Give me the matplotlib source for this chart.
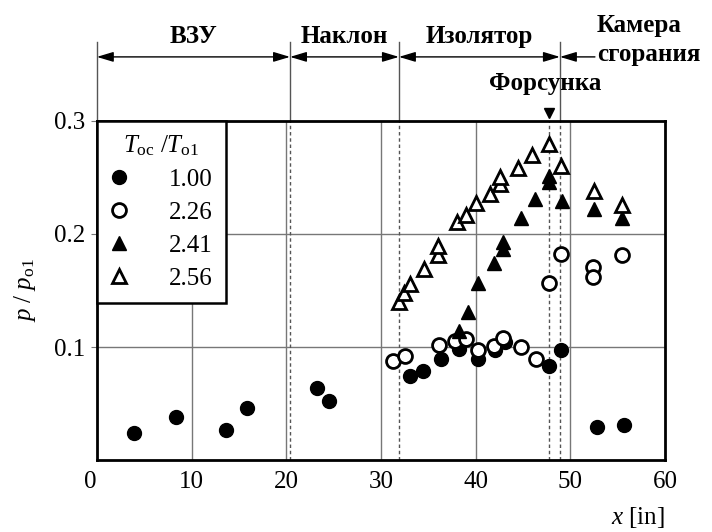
import matplotlib
matplotlib.use("Agg")
import matplotlib.pyplot as plt
from matplotlib.transforms import blended_transform_factory

plt.rcParams["font.family"] = ["Liberation Serif", "DejaVu Serif"]
plt.rcParams["mathtext.fontset"] = "custom"
plt.rcParams["mathtext.rm"] = "Liberation Serif"
plt.rcParams["mathtext.it"] = "Liberation Serif:italic"

# T_oc / T_o1 = 1.00 (filled circles)
x_100 = [3.9, 8.35, 13.65, 15.9, 23.2, 24.5, 33.1, 34.45, 36.3, 38.2, 40.3, 42.0, 43.1, 47.8, 49.0, 52.8, 55.7]
y_100 = [0.024, 0.038, 0.027, 0.046, 0.064, 0.052, 0.074, 0.079, 0.089, 0.098, 0.089, 0.097, 0.104, 0.083, 0.097, 0.029, 0.031]

# T_oc / T_o1 = 2.26 (open circles)
x_226 = [31.3, 32.5, 36.1, 37.8, 39.0, 40.3, 41.9, 42.9, 44.8, 46.4, 47.8, 49.0, 52.4, 52.4, 55.5]
y_226 = [0.088, 0.092, 0.102, 0.105, 0.107, 0.097, 0.101, 0.108, 0.100, 0.089, 0.157, 0.182, 0.171, 0.162, 0.181]

# T_oc / T_o1 = 2.41 (filled triangles)
x_241 = [38.2, 39.2, 40.2, 41.9, 42.9, 42.9, 44.8, 46.3, 47.8, 47.8, 49.1, 52.5, 55.5]
y_241 = [0.114, 0.131, 0.157, 0.174, 0.187, 0.193, 0.214, 0.231, 0.246, 0.251, 0.229, 0.222, 0.214]

# T_oc / T_o1 = 2.56 (open triangles)
x_256 = [31.9, 32.4, 33.1, 34.5, 36.0, 36.0, 38.0, 39.0, 40.0, 41.5, 42.6, 42.6, 44.5, 46.0, 47.7, 49.0, 52.5, 55.5]
y_256 = [0.140, 0.148, 0.156, 0.169, 0.181, 0.189, 0.211, 0.217, 0.227, 0.235, 0.244, 0.250, 0.258, 0.270, 0.280, 0.260, 0.238, 0.226]

# engine sections along x [in]
section_edges = [0, 20.4, 31.9, 48.9]
section_names = ["ВЗУ", "Наклон", "Изолятор"]
injector_x = 47.8

fig = plt.figure(figsize=(7.12, 5.32), dpi=100)
ax = fig.add_axes([0.136, 0.1353, 0.798, 0.6373])

ax.set_xlim(0, 60)
ax.set_ylim(0, 0.3)
ax.set_xticks([0, 10, 20, 30, 40, 50, 60])
ax.set_yticks([0.1, 0.2, 0.3])
ax.set_yticklabels(["0.1", "0.2", "0.3"])
ax.tick_params(axis="x", length=0, pad=8, labelsize=18)
ax.tick_params(axis="y", length=4, width=0.8, color="#777777", pad=4, labelsize=18)
ax.get_xticklabels()[0].set_horizontalalignment("right")
for sp in ax.spines.values():
    sp.set_linewidth(2)

for gx in [10, 20, 30, 40, 50]:
    ax.axvline(gx, color="#777777", lw=1.0, zorder=1)
for gy in [0.1, 0.2]:
    ax.axhline(gy, color="#777777", lw=1.0, zorder=1)
for dx in [section_edges[1], section_edges[2], injector_x, section_edges[3]]:
    ax.axvline(dx, color="#555555", lw=1.0, ls=(0, (2.5, 2)), zorder=1)

mk = dict(ms=10, ls="none", zorder=3)
ax.plot(x_100, y_100, "o", mfc="black", mec="black", label="1.00", **mk)
ax.plot(x_226, y_226, "o", mfc="white", mec="black", mew=2, label="2.26", **mk)
ax.plot(x_241, y_241, "^", mfc="black", mec="black", label="2.41", **mk)
ax.plot(x_256, y_256, "^", mfc="white", mec="black", mew=2, label="2.56", **mk)

leg = ax.legend(loc="upper left", bbox_to_anchor=(0, 1), borderaxespad=0,
                title=r"$T_{\rm oc}\ /T_{\rm o1}$", title_fontsize=18, fontsize=18,
                fancybox=False, framealpha=1, edgecolor="black",
                handletextpad=1.6, labelspacing=0.42, borderpad=0.5,
                handlelength=0.8)
leg.get_frame().set_linewidth(1.8)
leg.set_zorder(5)

ax.set_ylabel(r"$p\ /\ p_{\rm o1}$", fontsize=18, labelpad=12)
ax.text(1.0, -0.17, r"$x$ [in]", transform=ax.transAxes, ha="right", va="center", fontsize=18)

# section markers above the plot
tr = blended_transform_factory(ax.transData, ax.transAxes)
y_arrow = 1.189
for ex in section_edges:
    ax.plot([ex, ex], [1.0, 1.233], transform=tr, color="#555555", lw=1.0, clip_on=False)

arrow = "<|-|>,head_length=1.0,head_width=0.3"
for i, name in enumerate(section_names):
    x0, x1 = section_edges[i], section_edges[i + 1]
    ax.annotate("", xy=(x1, y_arrow), xytext=(x0, y_arrow), xycoords=tr, textcoords=tr,
                arrowprops=dict(arrowstyle=arrow, color="black", lw=1.0, shrinkA=0, shrinkB=0))
    ax.text((x0 + x1) / 2, 1.25, name, transform=tr, ha="center", va="center",
            fontsize=18, fontweight="bold")

ax.annotate("", xy=(section_edges[3], y_arrow), xytext=(52.6, y_arrow), xycoords=tr, textcoords=tr,
            arrowprops=dict(arrowstyle="-|>,head_length=1.0,head_width=0.3", color="black",
                            lw=1.0, shrinkA=0, shrinkB=0))
ax.text(52.8, 1.283, "Камера", transform=tr, ha="left", va="center", fontsize=18, fontweight="bold")
ax.text(52.8, 1.195, "сгорания", transform=tr, ha="left", va="center", fontsize=18, fontweight="bold")
ax.text(47.3, 1.112, "Форсунка", transform=tr, ha="center", va="center", fontsize=18, fontweight="bold")
ax.plot([injector_x], [1.025], "v", transform=tr, color="black", ms=7, clip_on=False)

fig.savefig("out.png", dpi=100)
